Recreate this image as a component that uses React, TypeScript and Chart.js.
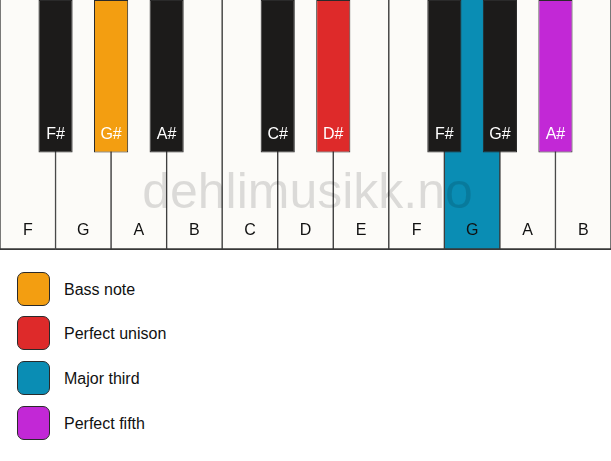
import { useEffect, useRef } from "react";
import { Chart, registerables } from "chart.js";

Chart.register(...registerables);

// keyboard: F to the next octave's B
const whiteNotes = ["F", "G", "A", "B", "C", "D", "E", "F", "G", "A", "B"];
const blackNotes = ["F#", "G#", "A#", "C#", "D#", "F#", "G#", "A#"];
// white-key boundary each black key sits on
const blackSlots = [1, 2, 3, 5, 6, 8, 9, 10];

// interval role of each key (null = not part of the chord)
const whiteRoles = [null, null, null, null, null, null, null, null, "third", null, null];
const blackRoles = [null, "bass", null, null, "unison", null, null, "fifth"];

// key extent, as % of white key length
const whiteSpan = [0, 100];
const blackSpan = [39, 100];

const legendRoles = ["bass", "unison", "third", "fifth"];
const legendLabels = ["Bass note", "Perfect unison", "Major third", "Perfect fifth"];

const roleColors: Record<string, string> = {
  bass: "#f39e11",
  unison: "#de2a2a",
  third: "#0a8db4",
  fifth: "#c228d6",
};

const FONT = "'Liberation Sans', Arial, sans-serif";

const keyLabels = {
  id: "keyLabels",
  afterDatasetsDraw(chart: any) {
    const c = chart.ctx;
    c.save();
    c.font = `16px ${FONT}`;
    c.textAlign = "center";
    c.textBaseline = "alphabetic";
    chart.getDatasetMeta(0).data.forEach((bar: any, i: number) => {
      c.fillStyle = "#111";
      c.fillText(whiteNotes[i], bar.x, bar.base - 15);
    });
    chart.getDatasetMeta(1).data.forEach((bar: any, i: number) => {
      c.fillStyle = "#fff";
      c.fillText(blackNotes[i], bar.x, bar.base - 13.5);
    });
    c.restore();
  },
  afterDraw(chart: any) {
    const c = chart.ctx;
    const area = chart.chartArea;
    c.save();
    c.font = `50px ${FONT}`;
    c.textAlign = "center";
    c.fillStyle = "rgba(0,0,0,0.13)";
    c.fillText("dehlimusikk.no", (area.left + area.right) / 2 + 2, 208);
    c.restore();
  },
};

function Keyboard() {
  const canvasRef = useRef<HTMLCanvasElement | null>(null);

  useEffect(() => {
    const ctx = canvasRef.current?.getContext("2d");
    if (!ctx) return;

    const chart = new Chart(ctx, {
      type: "bar",
      data: {
        datasets: [
          {
            label: "white keys",
            xAxisID: "x",
            data: whiteNotes.map((_, i) => ({ x: i + 0.5, y: whiteSpan })) as any,
            backgroundColor: whiteRoles.map((r) => (r ? roleColors[r] : "#fcfbf8")),
            borderColor: "#383838",
            borderWidth: { left: 1, right: 1, top: 0, bottom: 2 },
            borderSkipped: false,
            barPercentage: 1,
            categoryPercentage: 1,
            grouped: false,
            order: 2,
          },
          {
            label: "black keys",
            xAxisID: "x2",
            data: blackSlots.map((s) => ({ x: s, y: blackSpan })) as any,
            backgroundColor: blackRoles.map((r) => (r ? roleColors[r] : "#1c1b1a")),
            borderColor: "#2a2a2a",
            borderWidth: 1,
            borderSkipped: false,
            barPercentage: 0.615,
            categoryPercentage: 1,
            grouped: false,
            order: 1,
          },
        ],
      },
      options: {
        responsive: false,
        animation: false,
        layout: { padding: 0 },
        plugins: {
          legend: { display: false },
          tooltip: { enabled: false },
        },
        scales: {
          x: {
            type: "linear",
            min: 0,
            max: whiteNotes.length,
            offset: false,
            display: false,
            ticks: { stepSize: 1 },
          },
          x2: {
            type: "linear",
            axis: "x",
            position: "bottom",
            min: 0,
            max: whiteNotes.length,
            offset: false,
            display: false,
            ticks: { stepSize: 1 },
          },
          y: { min: 0, max: 100, display: false },
        },
      },
      plugins: [keyLabels],
    });

    return () => chart.destroy();
  }, []);

  return <canvas ref={canvasRef} width={611} height={250} style={{ display: "block" }} />;
}

export default function App() {
  useEffect(() => {
    document.body.style.margin = "0";
  }, []);

  return (
    <div style={{ position: "relative", width: 611, height: 461, background: "#fff" }}>
      <Keyboard />
      {legendRoles.map((role, i) => (
        <div
          key={role}
          style={{
            position: "absolute",
            left: 17,
            top: 271.5 + i * 44.67,
            height: 34,
            display: "flex",
            alignItems: "center",
            fontFamily: FONT,
            fontSize: 16,
            color: "#111",
          }}
        >
          <div
            style={{
              width: 33,
              height: 34,
              boxSizing: "border-box",
              border: "1.5px solid #2a2a2a",
              borderRadius: 7,
              background: roleColors[role],
              marginRight: 14,
            }}
          />
          <span style={{ paddingTop: 2 }}>{legendLabels[i]}</span>
        </div>
      ))}
    </div>
  );
}
